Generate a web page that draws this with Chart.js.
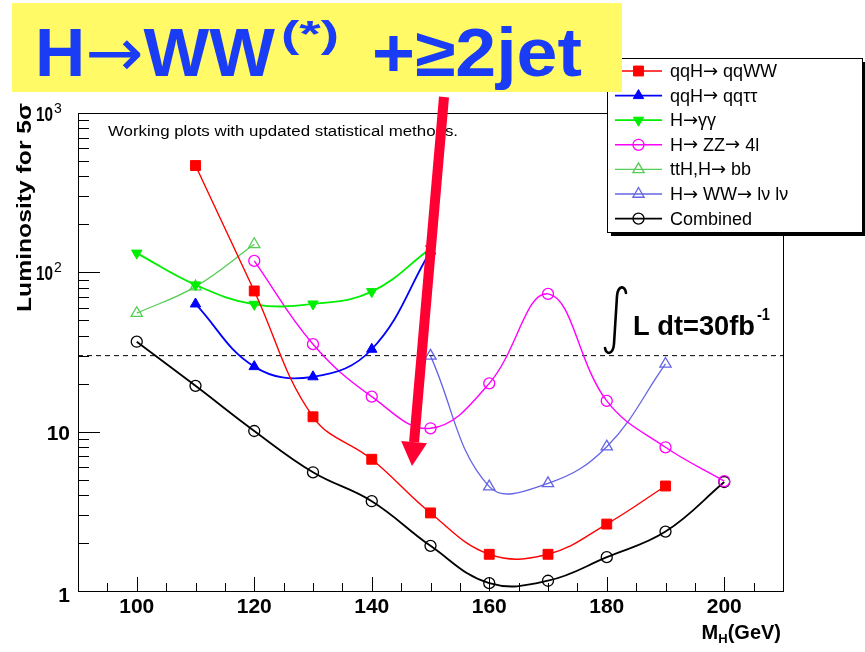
<!DOCTYPE html>
<html><head><meta charset="utf-8">
<script src="https://cdn.jsdelivr.net/npm/chart.js@4.4.1/dist/chart.umd.min.js"></script>
<style>html,body{margin:0;padding:0;background:#fff}canvas{display:block}</style>
</head><body>
<canvas id="c" width="865" height="652"></canvas>
<script>
// ---- data ----
const qqWW_x = [110,120,130,140,150,160,170,180,190];
const qqWW   = [468,76.4,12.4,6.71,3.09,1.70,1.70,2.63,4.56];
const qqTauTau_x = [110,120,130,140,150];
const qqTauTau   = [63.3,25.6,22.1,32.9,136];
const gamgam_x = [100,110,120,130,140,150];
const gamgam   = [132,83.4,63,63.3,75.7,141];
const zz4l_x = [120,130,140,150,160,170,180,190,200];
const zz4l   = [118,35.4,16.6,10.5,20.1,73.2,15.6,7.98,4.9];
const ttHbb_x = [100,110,120];
const ttHbb   = [55.4,81.4,150];
const wwlvlv_x = [150,160,170,180,190];
const wwlvlv   = [29.9,4.52,4.74,8.05,26.6];
const combined_x = [100,110,120,130,140,150,160,170,180,190,200];
const combined   = [36.7,19.4,10.1,5.56,3.66,1.92,1.12,1.16,1.63,2.36,4.83];
const lumiLevel = 30;
const lumiLine_x = [90,210];
const seriesLabels = ['qqH\u2192 qqWW','qqH\u2192 qq\u03C4\u03C4','H\u2192\u03B3\u03B3','H\u2192 ZZ\u2192 4l','ttH,H\u2192 bb','H\u2192 WW\u2192 l\u03BD l\u03BD','Combined'];
const xTicks = [100,120,140,160,180,200];
const yTicks = [1,10,100,1000];
const yTickBase = ['1','10','10','10'];
const yTickExp  = ['','','2','3'];
const xTitleMain = 'M', xTitleSub = 'H', xTitleRest = '(GeV)';
const yTitle = 'Luminosity for 5\u03C3';
const noteText = 'Working plots with updated statistical methods.';
const bannerA = 'H\u2192WW', bannerSup = '(*)', bannerB = '+\u22652jet';

const FONT = "'Liberation Sans', Arial, sans-serif";
const ARROWFONT = "'DejaVu Sans', sans-serif";

function pts(xs, ys){ return xs.map((x,i)=>({x:x, y:ys[i]})); }
function series(label, xs, ys, color, style, filled, r, bw, rot){
  return {label, data:pts(xs,ys), borderColor:color, backgroundColor: filled?color:'rgba(0,0,0,0)',
    pointBorderColor:color, pointBackgroundColor: filled?color:'rgba(0,0,0,0)',
    pointStyle:style, pointRadius:r, pointBorderWidth: filled?1:1.3, pointRotation: rot||0,
    borderWidth:bw, tension:0.4, fill:false, clip:false};
}
const datasets = [
  series(seriesLabels[0], qqWW_x, qqWW, '#ff0000', 'rect', true, 7, 1.4),
  series(seriesLabels[1], qqTauTau_x, qqTauTau, '#0000ff', 'triangle', true, 6, 1.8),
  series(seriesLabels[2], gamgam_x, gamgam, '#00ee00', 'triangle', true, 6, 1.8, 180),
  series(seriesLabels[3], zz4l_x, zz4l, '#ff00ff', 'circle', false, 5.5, 1.4),
  series(seriesLabels[4], ttHbb_x, ttHbb, '#55cc55', 'triangle', false, 6.5, 1.3),
  series(seriesLabels[5], wwlvlv_x, wwlvlv, '#6464e6', 'triangle', false, 6.5, 1.3),
  series(seriesLabels[6], combined_x, combined, '#000000', 'circle', false, 5.5, 1.8),
  {label:'lumi', data: lumiLine_x.map(x=>({x:x,y:lumiLevel})), borderColor:'#000', borderWidth:1,
   borderDash:[5,4], pointRadius:0, tension:0, fill:false}
];

function drawMarker(ctx, ds, x, y){
  ctx.save();
  ctx.strokeStyle = ds.pointBorderColor; ctx.fillStyle = ds.pointBackgroundColor;
  ctx.lineWidth = ds.pointBorderWidth;
  const r = ds.pointRadius;
  ctx.beginPath();
  if (ds.pointStyle==='rect'){ const s=Math.SQRT1_2*r; ctx.rect(x-s,y-s,2*s,2*s); }
  else if (ds.pointStyle==='circle'){ ctx.arc(x,y,r,0,Math.PI*2); }
  else {
    const rot = (ds.pointRotation||0)*Math.PI/180;
    const a = rot - Math.PI/2;
    for (let k=0;k<3;k++){ const ang=a+k*2*Math.PI/3; const px=x+Math.cos(ang)*r, py=y+Math.sin(ang)*r; if(k===0)ctx.moveTo(px,py); else ctx.lineTo(px,py);}
    ctx.closePath();
  }
  ctx.fill(); ctx.stroke(); ctx.restore();
}
function fitText(ctx, text, x, y, w, font){
  ctx.font = font; const m = ctx.measureText(text).width;
  ctx.save(); ctx.translate(x,y); ctx.scale(w/m,1); ctx.textAlign='left'; ctx.fillText(text,0,0); ctx.restore();
}
function segs(text){ return text.split(/(\u2192)/).filter(s=>s.length); }
function fontFor(s, size, weight, arrowWeight){
  const isA = s==='\u2192'; const w = isA ? arrowWeight : weight;
  return (w?w+' ':'') + size + 'px ' + (isA ? ARROWFONT : FONT);
}
function drawRich(ctx, text, x, y, size, weight, targetW, arrowWeight){
  if (arrowWeight===undefined) arrowWeight = weight;
  const parts = segs(text); let w=0;
  const ws = parts.map(s=>{ ctx.font=fontFor(s,size,weight,arrowWeight); const m=ctx.measureText(s).width; w+=m; return m; });
  const sc = targetW ? targetW/w : 1;
  ctx.save(); ctx.translate(x,y); ctx.scale(sc,1); ctx.textAlign='left';
  let cx=0; parts.forEach((s,i)=>{ ctx.font=fontFor(s,size,weight,arrowWeight); ctx.fillText(s,cx,0); cx+=ws[i]; });
  ctx.restore();
}

const deco = {
  id:'deco',
  beforeDraw(chart){ const c=chart.ctx; c.save(); c.fillStyle='#fff'; c.fillRect(0,0,chart.width,chart.height); c.restore(); },
  afterDraw(chart){
    const ctx = chart.ctx, a = chart.chartArea, xs = chart.scales.x, ys = chart.scales.y;
    ctx.save();
    // frame
    ctx.strokeStyle='#000'; ctx.lineWidth=1;
    ctx.strokeRect(Math.round(a.left)+0.5, Math.round(a.top)+0.5, Math.round(a.right-a.left), Math.round(a.bottom-a.top));
    // x ticks
    ctx.beginPath();
    for (let v=95; v<210; v+=5){
      const px = Math.round(xs.getPixelForValue(v))+0.5;
      const len = (xTicks.indexOf(v)>=0) ? 14 : 8;
      ctx.moveTo(px, a.bottom); ctx.lineTo(px, a.bottom-len);
    }
    // y ticks
    for (let d=1; d<1000; d*=10){
      for (let m=1;m<10;m++){
        const v=d*m; const py=Math.round(ys.getPixelForValue(v))+0.5;
        const len = m===1 ? 22 : 11;
        ctx.moveTo(a.left, py); ctx.lineTo(a.left+len, py);
      }
    }
    ctx.stroke();
    // x tick labels
    ctx.fillStyle='#000'; ctx.font='bold 21px '+FONT; ctx.textAlign='center'; ctx.textBaseline='alphabetic';
    xTicks.forEach(v=>{ ctx.fillText(String(v), xs.getPixelForValue(v), 613); });
    // y tick labels
    yTicks.forEach((v,i)=>{
      const py = ys.getPixelForValue(v);
      if (yTickExp[i]){
        fitText(ctx, yTickBase[i], 36, py+8, 17, 'bold 20px '+FONT);
        ctx.font='14px '+FONT; ctx.textAlign='left'; ctx.fillText(yTickExp[i], 54, py);
      } else {
        ctx.font='bold 21px '+FONT; ctx.textAlign='right';
        ctx.fillText(yTickBase[i], 70, py + (i===0 ? 11 : 8));
      }
    });
    // x title
    ctx.textAlign='left';
    ctx.font='bold 20px '+FONT; const wM=ctx.measureText(xTitleMain).width, wR=ctx.measureText(xTitleRest).width;
    ctx.font='bold 13px '+FONT; const wS=ctx.measureText(xTitleSub).width;
    const tx = 781 - (wM+wS+wR);
    ctx.font='bold 20px '+FONT; ctx.fillText(xTitleMain, tx, 639);
    ctx.font='bold 13px '+FONT; ctx.fillText(xTitleSub, tx+wM, 643);
    ctx.font='bold 20px '+FONT; ctx.fillText(xTitleRest, tx+wM+wS, 639);
    // y title
    ctx.save(); ctx.translate(31, 312); ctx.rotate(-Math.PI/2);
    fitText(ctx, yTitle, 0, 0, 209, 'bold 21px '+FONT); ctx.restore();
    // note
    fitText(ctx, noteText, 108, 136, 350, '14px '+FONT);
    // integral annotation
    ctx.lineWidth=2.6; ctx.lineCap='round';
    ctx.beginPath(); ctx.moveTo(626,293); ctx.bezierCurveTo(625,285,618,285,617,296);
    ctx.lineTo(614,344); ctx.bezierCurveTo(613,355,606,355,605,348); ctx.stroke();
    ctx.fillStyle='#000';
    fitText(ctx, 'L dt=30fb', 633, 335, 122, 'bold 28px '+FONT);
    fitText(ctx, '-1', 757, 320, 13, 'bold 16px '+FONT);
    // legend
    const L={x:607,y:58,w:255,h:174};
    ctx.fillStyle='#000'; ctx.fillRect(L.x+4,L.y+4,L.w,L.h);
    ctx.fillStyle='#fff'; ctx.fillRect(L.x,L.y,L.w,L.h);
    ctx.lineWidth=1; ctx.strokeStyle='#000'; ctx.strokeRect(L.x+0.5,L.y+0.5,L.w,L.h);
    ctx.textBaseline='middle';
    for (let i=0;i<7;i++){
      const d = chart.data.datasets[i]; const yy = 71 + i*24.6;
      ctx.strokeStyle=d.borderColor; ctx.lineWidth=d.borderWidth; ctx.lineCap='butt';
      ctx.beginPath(); ctx.moveTo(615,yy); ctx.lineTo(662,yy); ctx.stroke();
      drawMarker(ctx, d, 638.5, yy);
      ctx.fillStyle='#000'; drawRich(ctx, d.label, 670, yy+1, 18, '', 0);
    }
    // banner
    ctx.textBaseline='alphabetic';
    ctx.fillStyle='#fffa66'; ctx.fillRect(12,3,610,89);
    ctx.fillStyle='#1a3cf5';
    drawRich(ctx, bannerA, 35, 76, 68, 'bold', 240, '');
    fitText(ctx, bannerSup, 281, 47, 58, 'bold 36px '+FONT);
    fitText(ctx, bannerB, 372, 76, 210, 'bold 68px '+FONT);
    // red arrow
    const tip={x:412,y:466}, start={x:444,y:97};
    const dx=tip.x-start.x, dy=tip.y-start.y, len=Math.hypot(dx,dy), ux=dx/len, uy=dy/len;
    const bx=tip.x-24*ux, by=tip.y-24*uy;
    ctx.strokeStyle='#ff0033'; ctx.lineWidth=10; ctx.lineCap='butt';
    ctx.beginPath(); ctx.moveTo(start.x,start.y); ctx.lineTo(bx,by); ctx.stroke();
    ctx.fillStyle='#ff0033'; ctx.beginPath(); ctx.moveTo(tip.x,tip.y);
    ctx.lineTo(bx-13*uy, by+13*ux); ctx.lineTo(bx+13*uy, by-13*ux); ctx.closePath(); ctx.fill();
    ctx.restore();
  }
};

new Chart(document.getElementById('c').getContext('2d'), {
  type:'line',
  data:{datasets},
  options:{
    responsive:false, animation:false, devicePixelRatio:1,
    layout:{padding:{left:78, top:113, right:82, bottom:61}},
    plugins:{legend:{display:false}, tooltip:{enabled:false}},
    scales:{
      x:{type:'linear', min:90, max:210, display:false},
      y:{type:'logarithmic', min:1, max:1000, display:false}
    }
  },
  plugins:[deco]
});
</script>
</body></html>
